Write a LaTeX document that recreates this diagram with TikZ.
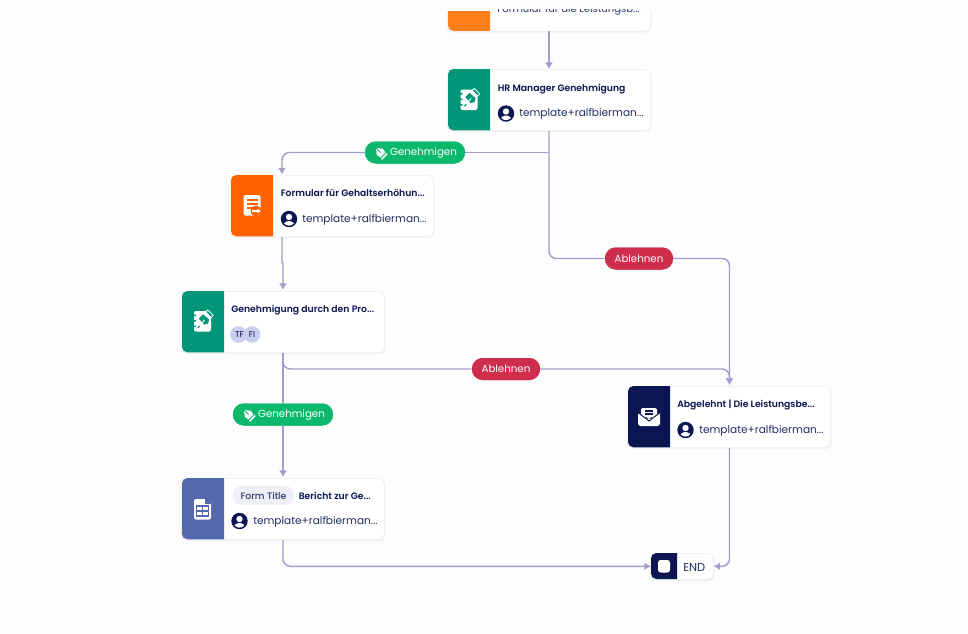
\documentclass[tikz,border=0pt]{standalone}
\usepackage{fontspec}
\setmainfont{Poppins}
\newfontfamily\semib{Poppins SemiBold}
\newfontfamily\medi{Poppins Medium}
\definecolor{bgc}{HTML}{FDFDFE}
\definecolor{lnc}{HTML}{A09FCB}
\definecolor{navy}{HTML}{0A1551}
\definecolor{teal}{HTML}{019678}
\definecolor{orangeA}{HTML}{FF6100}
\definecolor{orangeB}{HTML}{FF7E1C}
\definecolor{blueF}{HTML}{5369AC}
\definecolor{greenP}{HTML}{0CB86C}
\definecolor{redP}{HTML}{CE2D4B}
\definecolor{edgec}{HTML}{ECEDF3}
\definecolor{avc}{HTML}{C8CEED}
\definecolor{chipc}{HTML}{EEF0F5}
\usetikzlibrary{arrows.meta}
\tikzset{
 x=0.75pt,y=-0.75pt,
 conn/.style={draw=lnc,line width=1.1pt,rounded corners=5.5pt,-{Latex[length=5pt,width=6pt]}},
 plain/.style={draw=lnc,line width=1.1pt,rounded corners=5.5pt},
 pill/.style={rounded corners=8pt,minimum height=16.5pt,inner sep=0pt,text=white,font=\fontsize{7.7}{10}\selectfont},
 title/.style={anchor=west,inner sep=0,text=navy,font=\fontsize{6.95}{8}\semib},
 user/.style={anchor=west,inner sep=0,text=navy!90,font=\fontsize{7.9}{10}\selectfont},
}
% card: #1 name, #2 x, #3 y, #4 colour
\newcommand{\cardbox}[4]{%
 \fill[black!5,rounded corners=4pt] (#2-1.5,#3+1) rectangle ++(205,62);
 \node[draw=edgec,line width=.4pt,fill=white,rounded corners=4pt,minimum width=151.5pt,minimum height=46pt,inner sep=0,anchor=north west] (#1) at (#2,#3) {};
 \fill[#4] (#2+42,#3) [rounded corners=4pt] -- (#2,#3) -- (#2,#3+61.3) [sharp corners] -- (#2+42,#3+61.3) -- cycle;
}
\newcommand{\avatar}[2]{%
 \fill[navy] (#1,#2) circle (8.2);
 \fill[white] (#1,#2-2) circle (3.2);
 \begin{scope}
 \clip (#1,#2) circle (6.6);
 \fill[white] (#1,#2+7.5) ellipse (6 and 5.5);
 \end{scope}
}
\newcommand{\doc}[2]{\fill[white,rounded corners=1.5pt] (#1-8.5,#2-10) rectangle (#1+8.5,#2+10.5);}
% pen on a page: #1 x, #2 y, #3 colour
\newcommand{\penicon}[3]{%
 \doc{#1}{#2}
 \fill[#3] (#1-9,#2-6.5) rectangle (#1-6.5,#2-5) (#1-9,#2-1) rectangle (#1-6.5,#2+.5) (#1-9,#2+4.5) rectangle (#1-6.5,#2+6);
 \fill[#3,rotate around={-45:(#1+2,#2-1)}] (#1-3,#2-4) -- (#1+5,#2-4.5) -- (#1+7,#2-1) -- (#1+5,#2+2.5) -- (#1-3,#2+2) -- cycle;
 \draw[white,line width=.7pt,line cap=round] (#1-3,#2+5)--(#1+2,#2-1);
 \draw[#3,line width=1pt,line cap=round] (#1-4.5,#2+6.5)--(#1-3,#2+5);
 \fill[white,rotate around={-45:(#1+7,#2-7)}] (#1+2.5,#2-9) rectangle (#1+11,#2-5.5);
 \fill[#3,rotate around={-45:(#1+7,#2-7)}] (#1+3.5,#2-8.2) rectangle (#1+10,#2-6.2);
}
% nib on a pill
\newcommand{\nib}[2]{%
 \fill[white,rotate around={-45:(#1,#2)}] (#1-5,#2-1.2) -- (#1-1,#2-4.2) -- (#1+3.5,#2-3.5) -- (#1+3.5,#2+3.5) -- (#1-1,#2+4.2) -- (#1-5,#2+1.2) -- cycle;
 \fill[white,rotate around={-45:(#1,#2)}] (#1+4.7,#2-4) rectangle (#1+6.2,#2+4);
 \draw[greenP,line width=.6pt] (#1-3.5,#2-3.5)--(#1,#2);
}
\begin{document}
\begin{tikzpicture}
\useasboundingbox (0,0) rectangle (968,633);
\fill[bgc] (0,0) rectangle (968,633);
% top card, cut off by the top of the view
\begin{scope}
\clip (0,11.5) rectangle (968,633);
\cardbox{top}{448}{-30.5}{orangeB}
\end{scope}
\begin{scope}
\clip (440,9) rectangle (660,20);
\node[user,text=navy!85] (t0) at (497,10) {\fontsize{7.55}{10}\selectfont Formular für die Leistungsb...};
\end{scope}
\cardbox{hr}{448}{69}{teal}
\cardbox{form}{231}{175}{orangeA}
\cardbox{appr}{182}{291}{teal}
\cardbox{repo}{182}{478}{blueF}
\cardbox{rej}{628}{386}{navy}
% END
\fill[black!5,rounded corners=4pt] (649.5,554) rectangle (714.5,581);
\node[draw=edgec,line width=.4pt,fill=white,rounded corners=4pt,minimum width=46.5pt,minimum height=19.5pt,inner sep=0,anchor=north west] (endn) at (651,553) {};
\fill[navy] (677,553) [rounded corners=4pt] -- (651,553) -- (651,579) [sharp corners] -- (677,579) -- cycle;
\fill[white,rounded corners=2pt] (658,560) rectangle (670,572.5);
\node[anchor=west,inner sep=0,text=navy!90,font=\fontsize{8.6}{10}\selectfont] (endt) at (683,567) {END};
% texts
\node[title] (t1) at (497.5,88.7) {HR Manager Genehmigung};
\avatar{506}{113.5}
\node[user] (u1) at (519,114.3) {template+ralfbierman...};
\node[title] (t2) at (280.5,193) {Formular für Gehaltserhöhun...};
\avatar{289}{219}
\node[user] (u2) at (302,219.8) {template+ralfbierman...};
\node[title] (t3) at (231,310) {Genehmigung durch den Pro...};
\fill[avc] (238.5,334.5) circle (8.3);
\node[inner sep=0,text=navy,font=\fontsize{6.3}{8}\selectfont] (a1) at (239.5,334.8) {TF};
\fill[avc] (252,334.5) circle (8.3);
\node[inner sep=0,text=navy,font=\fontsize{6.3}{8}\selectfont] (a2) at (252,334.8) {FI};
\node[fill=chipc,rounded corners=6.5pt,minimum width=46pt,minimum height=14pt,inner sep=0,text=navy!85,font=\fontsize{7}{8}\medi] (chip) at (263.5,495.5) {Form Title};
\node[title] (t4) at (298.5,496) {Bericht zur Ge...};
\avatar{239.5}{521}
\node[user] (u4) at (253,522) {template+ralfbierman...};
\node[title] (t5) at (677,405) {Abgelehnt | Die Leistungsbe...};
\avatar{685.5}{430}
\node[user] (u5) at (699,430.8) {template+ralfbierman...};
% icons
\penicon{469}{99.5}{teal}
\penicon{202.5}{321}{teal}
\doc{252}{205}
\draw[orangeA,line width=1.1pt] (247,200)--(258,200) (247,204)--(258,204) (247,208)--(254,208);
\fill[orangeA] (256,211) circle (5.5);
\draw[white,line width=.9pt,-{Latex[length=2.5pt,width=3.5pt]}] (251.5,211)--(261,211);
\doc{202.5}{509}
\draw[blueF,line width=1pt] (196.5,506) rectangle (208.5,516) (196.5,511)--(208.5,511) (202.5,506)--(202.5,516);
\fill[blueF] (205,498.5)--(211,498.5)--(211,504)--(205,504)--cycle;
% envelope
\fill[white,rounded corners=2pt] (638,412) -- (638,426) -- (660,426) -- (660,412) -- (649,420) -- cycle;
\fill[white,rounded corners=1.5pt] (641,408) rectangle (657,417);
\fill[white] (641,412)--(649,419)--(657,412)--cycle;
\draw[navy,line width=.9pt] (645,411)--(653,411) (645,414)--(653,414);
\draw[navy,line width=.7pt] (638,412.5)--(649,421)--(660,412.5);
% connectors
\coordinate (topb) at (549,31);
\draw[conn] (topb) -- (hr.north -| topb);
\node[pill,fill=greenP,minimum width=75pt] (p1) at (415,152.5) {};
\node[pill,fill=redP,minimum width=51pt] (p2) at (639,258.5) {};
\node[pill,fill=redP,minimum width=51pt] (p3) at (506,369) {};
\node[pill,fill=greenP,minimum width=75pt] (p4) at (283,414.5) {};
\coordinate (hrb) at (549,131);
\coordinate (frmb) at (282,237);
\coordinate (aprb) at (283,353);
\coordinate (repb) at (283,540);
\coordinate (rejb) at (729.5,448);
\coordinate (rejt) at (729.5,385);
\draw[plain,sharp corners] (hrb |- p1.east) -- (p1.east);
\draw[conn] (p1.west) -- (282,152.5) -- (282,174.5);
\draw[plain] (hrb) -- (549,258.5) -- (p2.west);
\draw[conn] (p2.east) -- (729.5,258.5) -- (rejt);
\draw[conn,sharp corners] (frmb) -- (282,262) -- (283,263) -- (283,290);
\draw[plain] (aprb) -- (283,369) -- (p3.west);
\draw[conn] (p3.east) -- (729.5,369) -- (rejt);
\draw[plain] (aprb) -- (p4.north);
\draw[conn] (p4.south) -- (283,477);
\draw[conn] (repb) -- (repb |- endn.west) -- (endn.west);
\draw[conn] (rejb) -- (rejb |- endn.east) -- (endn.east);
% pills on top of the lines
\node[pill,fill=greenP,minimum width=75pt] (l1) at (415,152.5) {\hspace*{12.7pt}\raisebox{-.7pt}{Genehmigen}};
\node[pill,fill=redP,minimum width=51pt] (l2) at (639,258.5) {\raisebox{-.7pt}{Ablehnen}};
\node[pill,fill=redP,minimum width=51pt] (l3) at (506,369) {\raisebox{-.7pt}{Ablehnen}};
\node[pill,fill=greenP,minimum width=75pt] (l4) at (283,414.5) {\hspace*{12.7pt}\raisebox{-.7pt}{Genehmigen}};
\nib{380.5}{152.5}
\nib{248.5}{414.5}
\end{tikzpicture}
\end{document}
